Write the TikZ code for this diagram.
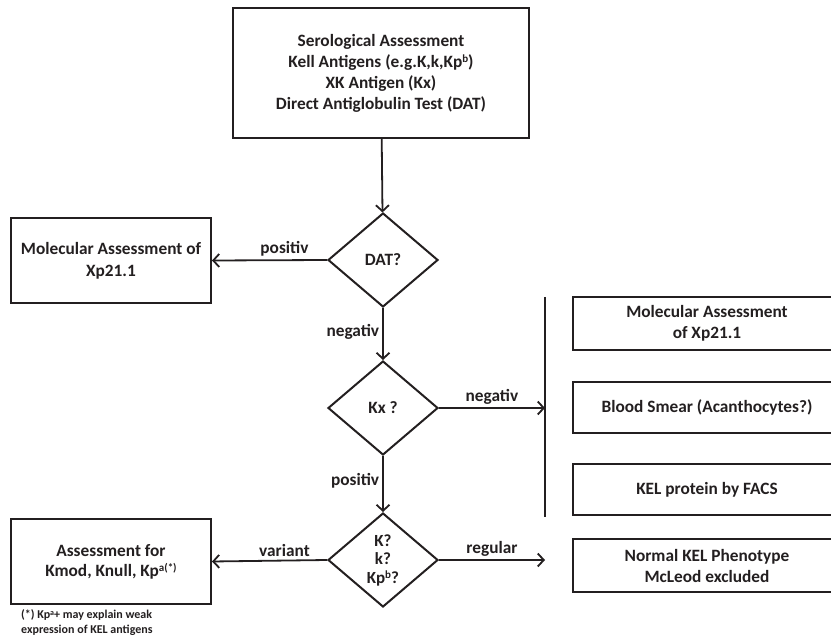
\documentclass[tikz,border=0pt]{standalone}
\usepackage{fontspec}
\setmainfont{Carlito}
\usepackage{xcolor}
\usetikzlibrary{arrows.meta,positioning,shapes.geometric}
\definecolor{inkgray}{HTML}{231F20}
\newcommand\smallsup[1]{\raisebox{0.55ex}{\fontsize{11pt}{11pt}\selectfont #1}}

\begin{document}
\begin{tikzpicture}[x=1pt,y=-1pt,font=\fontsize{17.3pt}{21pt}\selectfont\bfseries,
  box/.style={draw=inkgray,line width=2pt,rectangle,align=center,text=inkgray},
  decision/.style={draw=inkgray,line width=2pt,diamond,inner sep=0pt,minimum width=110pt,minimum height=94pt,align=center,text=inkgray},
  flow/.style={draw=inkgray,line width=1.8pt,-{Straight Barb[length=6pt,width=13pt,line width=1.8pt]}},
  lbl/.style={text=inkgray,inner sep=3pt}]
  \useasboundingbox (0,0) rectangle (831,639);
  % column of decisions
  \node[box,minimum width=296pt,minimum height=130pt] (sero) at (381,73) {Serological Assessment\\Kell Antigens (e.g.K,k,Kp\smallsup{b})\\XK Antigen (Kx)\\Direct Antiglobulin Test (DAT)};
  \node[decision] (dat) at (383,260) {DAT?};
  \node[decision] (kx) at (383,408) {Kx ?};
  \node[decision,font=\fontsize{17pt}{18.5pt}\selectfont\bfseries] (kkp) at (383,560) {K?\\k?\\Kp\smallsup{b}?};
  % left outcomes
  \node[box,minimum width=200pt,minimum height=85pt,font=\fontsize{17.3pt}{22pt}\selectfont\bfseries] (molleft) at (111,260.5) {Molecular Assessment of\\Xp21.1};
  \node[box,minimum width=200pt,minimum height=85pt,font=\fontsize{17.3pt}{20pt}\selectfont\bfseries] (assess) at (111,561.5) {Assessment for\\Kmod, Knull, Kp\smallsup{a(*)}};
  \node[anchor=north west,align=left,inner sep=0pt,text=inkgray,font=\fontsize{12pt}{15pt}\selectfont\bfseries] (note) at (21,609) {(*) Kp\raisebox{0.5ex}{\fontsize{8pt}{8pt}\selectfont a}+ may explain weak\\expression of KEL antigens};
  % right outcomes
  \node[box,minimum width=268pt,minimum height=53pt,font=\fontsize{17.3pt}{21pt}\selectfont\bfseries] (molright) at (707,323.5) {Molecular Assessment\\of Xp21.1};
  \node[box,minimum width=268pt,minimum height=51pt] (smear) at (707,407.5) {Blood Smear (Acanthocytes?)};
  \node[box,minimum width=268pt,minimum height=51pt] (facs) at (707,489.5) {KEL protein by FACS};
  \node[box,minimum width=268pt,minimum height=53pt] (normal) at (707,565.5) {Normal KEL Phenotype\\McLeod excluded};
  \coordinate (bartop) at (545,297);
  \coordinate (barbot) at (545,517);
  \draw[inkgray,line width=1.8pt] (bartop) -- (barbot);
  % connectors
  \draw[flow] (sero) -- (dat);
  \draw[flow] (dat.west) -- node[lbl,above,pos=0.37]{positiv} (molleft.east);
  \draw[flow] (dat.south) -- node[lbl,left,pos=0.45]{negativ} (kx.north);
  \draw[flow] (kx.east) -- node[lbl,above]{negativ} (kx.east -| bartop);
  \draw[flow] (kx.south) -- node[lbl,left,pos=0.45]{positiv} (kkp.north);
  \draw[flow] (kkp.west) -- node[lbl,above,pos=0.37]{variant} (assess.east);
  \draw[flow] (kkp.east) -- node[lbl,above]{regular} (kkp.east -| bartop);
\end{tikzpicture}
\end{document}
